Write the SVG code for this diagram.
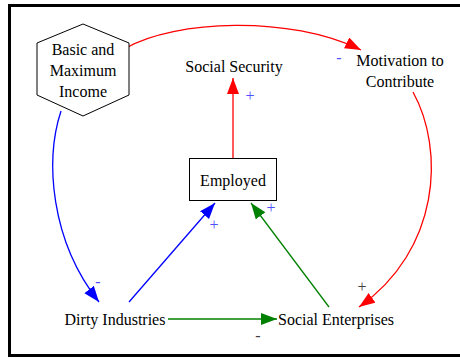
<svg xmlns="http://www.w3.org/2000/svg" width="460" height="358" viewBox="0 0 460 358">
<defs>
<marker id="ar" markerUnits="userSpaceOnUse" markerWidth="18" markerHeight="14" refX="16" refY="6" orient="auto"><path d="M0,0 L16,6 L0,12 Z" fill="#ff0000"/></marker>
<marker id="ab" markerUnits="userSpaceOnUse" markerWidth="18" markerHeight="14" refX="16" refY="6" orient="auto"><path d="M0,0 L16,6 L0,12 Z" fill="#0000ff"/></marker>
<marker id="ag" markerUnits="userSpaceOnUse" markerWidth="18" markerHeight="14" refX="16" refY="6" orient="auto"><path d="M0,0 L16,6 L0,12 Z" fill="#008000"/></marker>
</defs>
<rect x="9.5" y="5.5" width="460" height="350" fill="#fff" stroke="#000" stroke-width="3"/>
<g id="connectors" fill="none" stroke-width="1.3">
<path d="M126,48 C175,20 290,15 361,50" stroke="#ff0000" marker-end="url(#ar)"/>
<path d="M413,92 C445,150 440,250 359,307" stroke="#ff0000" marker-end="url(#ar)"/>
<path d="M233,158 L233,78" stroke="#ff0000" marker-end="url(#ar)"/>
<path d="M61,111 C45,160 50,240 99,302" stroke="#0000ff" marker-end="url(#ab)"/>
<path d="M129,302 L215,203" stroke="#0000ff" marker-end="url(#ab)"/>
<path d="M168,319 L277,319" stroke="#008000" marker-end="url(#ag)"/>
<path d="M329,307 L251,203" stroke="#008000" marker-end="url(#ag)"/>
</g>
<g id="polarities" font-size="16" text-anchor="middle" stroke="none">
<text font-family="Liberation Serif" fill="#5050ff" x="339" y="63">-</text>
<text font-family="Liberation Serif" fill="#5050ff" x="250" y="101">+</text>
<text font-family="Liberation Serif" fill="#5050ff" x="98" y="287">-</text>
<text font-family="Liberation Serif" fill="#5050ff" x="214" y="230">+</text>
<text font-family="Liberation Serif" fill="#5050ff" x="271" y="213">+</text>
<text font-family="Liberation Serif" fill="#404040" x="362" y="292">+</text>
<text font-family="Liberation Serif" fill="#404040" x="258" y="341">-</text>
</g>
<g id="basic-income" font-size="16" text-anchor="middle">
<polygon points="83,24 129,43 129,95 83,116 37,95 37,43" fill="#fff" stroke="#000" stroke-width="1"/>
<text font-family="Liberation Serif" fill="#000" x="83" y="55">Basic and</text>
<text font-family="Liberation Serif" fill="#000" x="83" y="76">Maximum</text>
<text font-family="Liberation Serif" fill="#000" x="83" y="97">Income</text>
</g>
<g id="social-security" font-size="16" text-anchor="middle">
<text font-family="Liberation Serif" fill="#000" x="234" y="72">Social Security</text>
</g>
<g id="motivation" font-size="16" text-anchor="middle">
<text font-family="Liberation Serif" fill="#000" x="400" y="66">Motivation to</text>
<text font-family="Liberation Serif" fill="#000" x="400" y="87">Contribute</text>
</g>
<g id="employed" font-size="16" text-anchor="middle">
<rect x="189.5" y="158.5" width="87" height="42" fill="#fff" stroke="#000" stroke-width="1"/>
<text font-family="Liberation Serif" fill="#000" x="233" y="186">Employed</text>
</g>
<g id="dirty-industries" font-size="16" text-anchor="middle">
<text font-family="Liberation Serif" fill="#000" x="115" y="325">Dirty Industries</text>
</g>
<g id="social-enterprises" font-size="16" text-anchor="middle">
<text font-family="Liberation Serif" fill="#000" x="336" y="325">Social Enterprises</text>
</g>
</svg>
